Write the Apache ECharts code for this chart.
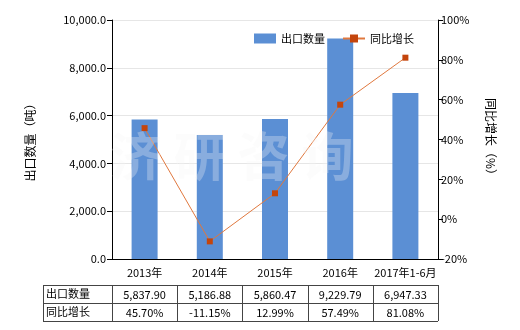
<!DOCTYPE html>
<html><head><meta charset="utf-8">
<script src="https://cdn.jsdelivr.net/npm/echarts@6/dist/echarts.min.js"></script>
<style>html,body{margin:0;padding:0;background:#fff}#c{width:520px;height:330px}</style>
</head><body><div id="c"></div>
<script>
const categories = ['2013年','2014年','2015年','2016年','2017年1-6月'];
const exportQty = [5837.90, 5186.88, 5860.47, 9229.79, 6947.33];
const yoyGrowth = [45.70, -11.15, 12.99, 57.49, 81.08];
const rowNames = ['出口数量','同比增长'];
const leftTicks = {min:0, max:10000, interval:2000};
const rightTicks = {min:-20, max:100, interval:20};

const FONT = '"Noto Sans CJK SC", sans-serif';
const gl = 112, gr = 438, gt = 20, gb = 259;
const chart = echarts.init(document.getElementById('c'), null, {renderer:'canvas'});

function fmtNum(v){return v.toLocaleString('en-US',{minimumFractionDigits:2,maximumFractionDigits:2});}

const graphics = [];
// watermark
graphics.push({type:'text', left:110, top:130, z:100, silent:true, style:{text:'济 研 咨 询', fill:'rgba(244,244,244,0.3)', font:'bold 52px '+FONT}});
// table
const tl = 43, tTop = 285, tMid = 303, tBot = 321;
const colW = (gr-gl)/categories.length;
const lineStyle = {stroke:'#444', lineWidth:1};
[tTop,tMid,tBot].forEach(y=>graphics.push({type:'line', shape:{x1:tl,y1:y+0.5,x2:gr,y2:y+0.5}, style:lineStyle}));
graphics.push({type:'line', shape:{x1:tl+0.5,y1:tTop,x2:tl+0.5,y2:tBot}, style:lineStyle});
for(let i=0;i<=categories.length;i++){
  const x = Math.round(gl+i*colW)+0.5;
  graphics.push({type:'line', shape:{x1:x,y1:tTop,x2:x,y2:tBot}, style:lineStyle});
}
rowNames.forEach((n,r)=>{
  graphics.push({type:'text', x:tl+3, y:(r?tMid:tTop)+9, style:{text:n, fill:'#000', font:'11px '+FONT, verticalAlign:'middle'}});
});
categories.forEach((c,i)=>{
  const cx = gl+(i+0.5)*colW;
  graphics.push({type:'text', x:cx, y:tTop+10, style:{text:fmtNum(exportQty[i]), fill:'#000', font:'11px '+FONT, align:'center', verticalAlign:'middle'}});
  graphics.push({type:'text', x:cx, y:tMid+10, style:{text:yoyGrowth[i].toFixed(2)+'%', fill:'#000', font:'11px '+FONT, align:'center', verticalAlign:'middle'}});
});

chart.setOption({
  animation:false,
  textStyle:{fontFamily:FONT},
  grid:{left:gl, right:520-gr, top:gt, bottom:330-gb},
  legend:{
    top:28, left:249, itemGap:17, itemWidth:22, itemHeight:10,
    textStyle:{fontSize:11, color:'#000', fontFamily:FONT},
    data:[{name:'出口数量', icon:'rect'},{name:'同比增长'}]
  },
  xAxis:{
    type:'category', data:categories,
    axisLine:{lineStyle:{color:'#000'}}, axisTick:{show:false},
    axisLabel:{color:'#000', fontSize:11, margin:8, interval:0, fontFamily:FONT}
  },
  yAxis:[{
    type:'value', min:leftTicks.min, max:leftTicks.max, interval:leftTicks.interval,
    name:'出口数量（吨）', nameLocation:'middle', nameGap:76, nameRotate:90,
    nameTextStyle:{fontSize:12, color:'#000', fontFamily:FONT},
    axisLine:{show:true, lineStyle:{color:'#000'}}, axisTick:{show:true, length:5, lineStyle:{color:'#000'}},
    axisLabel:{color:'#000', fontSize:11, margin:6, formatter:v=>v.toLocaleString('en-US',{minimumFractionDigits:1,maximumFractionDigits:1})},
    splitLine:{lineStyle:{color:'#e6e6e6'}}
  },{
    type:'value', min:rightTicks.min, max:rightTicks.max, interval:rightTicks.interval,
    name:'同比增长（%）', nameLocation:'middle', nameGap:47, nameRotate:-90,
    nameTextStyle:{fontSize:12, color:'#000', fontFamily:FONT},
    axisLine:{show:true, lineStyle:{color:'#000'}}, axisTick:{show:true, length:5, lineStyle:{color:'#000'}},
    axisLabel:{color:'#000', fontSize:11, margin:3, formatter:'{value}%'},
    splitLine:{show:false}
  }],
  series:[{
    name:'出口数量', type:'bar', data:exportQty, barWidth:26,
    itemStyle:{color:'#5B8FD4'}
  },{
    name:'同比增长', type:'line', yAxisIndex:1, data:yoyGrowth,
    symbol:'rect', symbolSize:6,
    lineStyle:{color:'#E0783E', width:1},
    itemStyle:{color:'#C4450C'}
  }],
  graphic:graphics
});
</script></body></html>
